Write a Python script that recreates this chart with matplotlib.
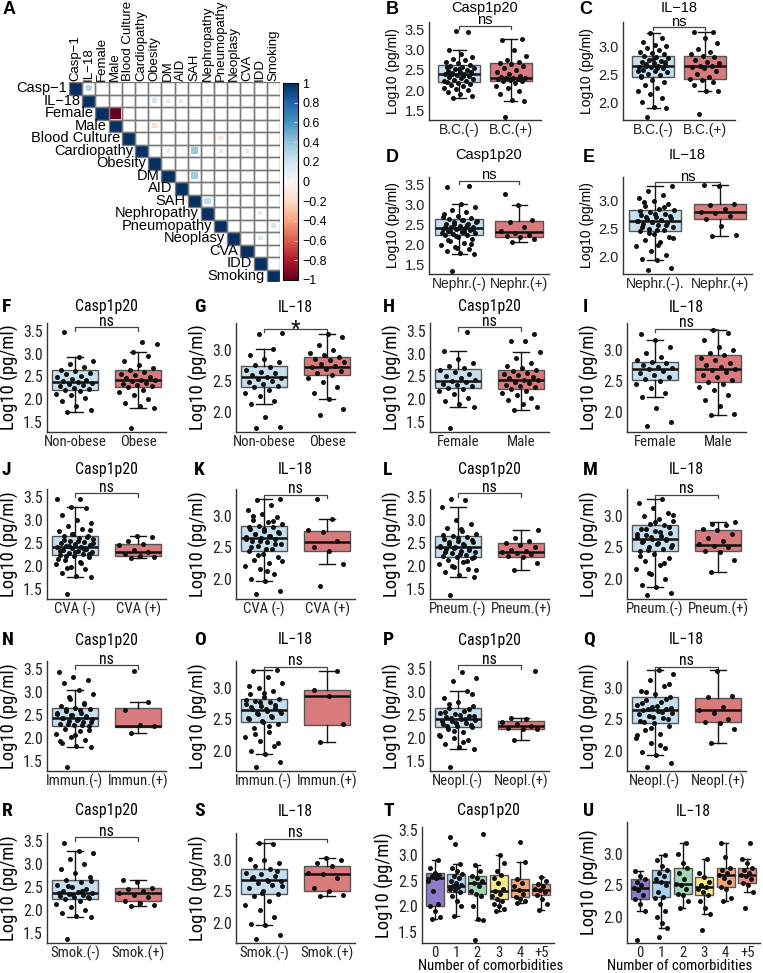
import os
import numpy as np
import matplotlib
matplotlib.use('Agg')
import matplotlib.pyplot as plt
import matplotlib.colors as mcolors
import matplotlib.cm as cm
from matplotlib.patches import Rectangle
from matplotlib import font_manager
from matplotlib.font_manager import FontProperties

plt.rcParams['font.family'] = ['Liberation Sans', 'DejaVu Sans']

# ---------------- data ----------------
var_names = ['Casp−1', 'IL−18', 'Female', 'Male', 'Blood Culture', 'Cardiopathy',
             'Obesity', 'DM', 'AID', 'SAH', 'Nephropathy', 'Pneumopathy',
             'Neoplasy', 'CVA', 'IDD', 'Smoking']
corr_row = [0, 1, 1, 1, 1, 2, 3, 4, 5, 5, 5, 5, 7, 9, 10, 11, 12]
corr_col = [1, 6, 7, 8, 10, 3, 6, 11, 7, 9, 11, 13, 9, 10, 14, 15, 14]
corr_val = [0.28, 0.20, 0.12, 0.12, 0.10, -1.0, -0.20, -0.14, 0.14, 0.38, 0.12,
            0.14, 0.36, 0.25, 0.14, 0.20, 0.15]

casp_ticks = [1.5, 2.0, 2.5, 3.0, 3.5]
il18_ticks = [2.0, 2.5, 3.0]
comorb_labels = ['0', '1', '2', '3', '4', '+5']

# box stats: [lower whisker, q1, median, q3, upper whisker]
# B  blood culture
bc_casp_neg = [1.81, 1.85, 1.9, 1.95, 2.0, 2.03, 2.06, 2.1, 2.13, 2.16, 2.18, 2.2, 2.22, 2.25, 2.27, 2.3,
               2.32, 2.35, 2.37, 2.39, 2.41, 2.42, 2.44, 2.46, 2.48, 2.5, 2.53, 2.55, 2.58, 2.6, 2.63,
               2.66, 2.7, 2.74, 2.78, 2.83, 2.9, 2.99, 3.43, 3.47, 2.24, 2.34, 2.4, 2.45, 2.52, 2.57]
bc_casp_pos = [1.35, 1.74, 1.75, 1.9, 1.98, 2.05, 2.1, 2.18, 2.22, 2.24, 2.25, 2.27, 2.28, 2.3, 2.3, 2.31,
               2.33, 2.36, 2.4, 2.45, 2.5, 2.55, 2.6, 2.64, 2.66, 2.7, 2.75, 2.85, 3.0, 3.24, 3.26]
bc_casp_box = [[1.81, 2.20, 2.41, 2.63, 2.99], [1.74, 2.24, 2.31, 2.66, 3.25]]
# C
bc_il18_neg = [1.73, 1.89, 1.92, 2.0, 2.08, 2.15, 2.2, 2.25, 2.3, 2.35, 2.4, 2.45, 2.48, 2.5, 2.53, 2.56,
               2.58, 2.6, 2.62, 2.63, 2.64, 2.65, 2.67, 2.69, 2.71, 2.73, 2.75, 2.78, 2.8, 2.83, 2.85,
               2.88, 2.9, 2.93, 2.97, 3.0, 3.02, 3.08, 3.15, 3.24, 2.55, 2.61, 2.68, 2.72, 2.77, 2.47]
bc_il18_pos = [1.79, 2.19, 2.2, 2.3, 2.35, 2.4, 2.42, 2.45, 2.5, 2.55, 2.6, 2.62, 2.64, 2.65, 2.7, 2.72,
               2.75, 2.8, 2.82, 2.85, 2.9, 2.95, 3.05, 3.15, 3.25, 3.26]
bc_il18_box = [[1.89, 2.45, 2.64, 2.83, 3.24], [2.19, 2.42, 2.64, 2.82, 3.26]]
# D  nephropathy
ne_casp_neg = [1.35, 1.77, 1.8, 1.85, 1.9, 1.95, 2.0, 2.05, 2.1, 2.15, 2.2, 2.23, 2.25, 2.27, 2.3, 2.32,
               2.34, 2.36, 2.38, 2.4, 2.41, 2.43, 2.45, 2.47, 2.5, 2.52, 2.55, 2.58, 2.6, 2.63, 2.66,
               2.7, 2.75, 2.8, 2.86, 2.93, 3.02, 3.43, 3.45, 2.22, 2.28, 2.31, 2.35, 2.39, 2.42, 2.44,
               2.48, 2.51, 2.56, 2.62, 2.12, 2.02, 1.92, 2.68]
ne_casp_pos = [2.06, 2.15, 2.2, 2.22, 2.25, 2.3, 2.35, 2.45, 2.55, 2.6, 2.99, 3.25]
ne_casp_box = [[1.77, 2.23, 2.41, 2.63, 3.02], [2.06, 2.20, 2.32, 2.59, 2.99]]
# E
ne_il18_neg = [1.76, 1.78, 1.93, 1.95, 2.02, 2.1, 2.18, 2.25, 2.3, 2.35, 2.4, 2.45, 2.48, 2.5, 2.53, 2.56,
               2.58, 2.6, 2.62, 2.64, 2.65, 2.67, 2.69, 2.71, 2.74, 2.77, 2.8, 2.83, 2.86, 2.9, 2.95,
               3.0, 3.05, 3.1, 3.18, 3.27, 2.47, 2.52, 2.57, 2.61, 2.63, 2.66, 2.7, 2.73, 2.76, 2.81,
               2.88, 2.42, 2.33, 2.2, 2.97]
ne_il18_pos = [2.36, 2.38, 2.55, 2.68, 2.72, 2.78, 2.8, 2.85, 2.92, 2.95, 3.27, 3.28]
ne_il18_box = [[1.93, 2.45, 2.64, 2.83, 3.27], [2.36, 2.67, 2.79, 2.95, 3.28]]
# F  obesity
ob_casp_neg = [1.72, 1.75, 1.85, 1.95, 2.02, 2.08, 2.12, 2.17, 2.19, 2.22, 2.25, 2.28, 2.3, 2.33, 2.35,
               2.37, 2.39, 2.42, 2.45, 2.48, 2.5, 2.55, 2.58, 2.62, 2.65, 2.7, 2.78, 2.85, 2.93, 3.47]
ob_casp_pos = [1.35, 1.8, 1.85, 1.92, 2.0, 2.08, 2.15, 2.2, 2.26, 2.28, 2.3, 2.33, 2.36, 2.39, 2.41, 2.43,
               2.46, 2.49, 2.52, 2.55, 2.6, 2.63, 2.68, 2.75, 2.85, 2.95, 3.03, 3.22, 3.27]
ob_casp_box = [[1.72, 2.19, 2.37, 2.63, 2.93], [1.80, 2.26, 2.41, 2.63, 3.03]]
# G
ob_il18_neg = [1.74, 1.76, 1.92, 2.13, 2.18, 2.25, 2.3, 2.35, 2.4, 2.42, 2.45, 2.48, 2.5, 2.53, 2.55,
               2.57, 2.59, 2.62, 2.65, 2.68, 2.72, 2.75, 2.8, 2.85, 2.92, 3.02, 3.26, 3.27]
ob_il18_pos = [1.95, 2.05, 2.21, 2.3, 2.4, 2.48, 2.55, 2.6, 2.63, 2.66, 2.69, 2.72, 2.74, 2.77, 2.8,
               2.83, 2.86, 2.89, 2.92, 2.95, 3.0, 3.08, 3.2, 3.26]
ob_il18_box = [[2.13, 2.41, 2.57, 2.74, 3.02], [2.21, 2.59, 2.72, 2.88, 3.26]]
# H  sex
sx_casp_f = [1.35, 1.83, 1.88, 1.95, 2.02, 2.1, 2.17, 2.22, 2.25, 2.28, 2.31, 2.34, 2.37, 2.4, 2.43,
             2.47, 2.51, 2.55, 2.6, 2.64, 2.68, 2.72, 2.8, 2.88, 3.06, 3.48]
sx_casp_m = [1.76, 1.82, 1.9, 1.97, 2.02, 2.08, 2.13, 2.18, 2.23, 2.26, 2.29, 2.32, 2.35, 2.38, 2.41,
             2.43, 2.46, 2.49, 2.52, 2.55, 2.58, 2.62, 2.64, 2.68, 2.73, 2.8, 2.9, 3.03, 3.28, 3.29, 3.44]
sx_casp_box = [[1.83, 2.24, 2.40, 2.67, 3.06], [1.76, 2.23, 2.43, 2.64, 3.03]]
# I
sx_il18_f = [1.78, 1.84, 2.06, 2.24, 2.3, 2.38, 2.45, 2.5, 2.53, 2.57, 2.6, 2.63, 2.66, 2.69, 2.71,
             2.73, 2.75, 2.78, 2.8, 2.83, 2.88, 2.95, 3.05, 3.15, 3.26]
sx_il18_m = [1.95, 1.97, 2.1, 2.2, 2.28, 2.35, 2.4, 2.45, 2.48, 2.52, 2.56, 2.6, 2.64, 2.67, 2.69,
             2.72, 2.75, 2.79, 2.83, 2.87, 2.91, 2.95, 3.0, 3.05, 3.15, 3.27, 3.32]
sx_il18_box = [[2.24, 2.52, 2.69, 2.81, 3.15], [1.95, 2.48, 2.69, 2.91, 3.32]]
# J  CVA
cva_casp_neg = [1.38, 1.75, 1.78, 1.85, 1.92, 1.98, 2.03, 2.08, 2.13, 2.18, 2.21, 2.23, 2.25, 2.28, 2.3,
                2.32, 2.34, 2.36, 2.38, 2.4, 2.41, 2.43, 2.45, 2.47, 2.5, 2.52, 2.55, 2.58, 2.61, 2.64,
                2.66, 2.7, 2.75, 2.8, 2.86, 2.93, 3.0, 3.1, 3.27, 3.28, 3.45, 3.47, 2.22, 2.26, 2.29,
                2.33, 2.37, 2.44, 2.49, 2.53, 2.57, 2.63, 2.69, 2.15, 2.05, 1.95, 2.78]
cva_casp_pos = [2.17, 2.2, 2.22, 2.25, 2.3, 2.35, 2.45, 2.47, 2.55, 2.62, 2.65]
cva_casp_box = [[1.75, 2.23, 2.41, 2.66, 3.28], [2.17, 2.22, 2.30, 2.48, 2.65]]
# K
cva_il18_neg = [1.76, 1.81, 1.97, 2.0, 2.08, 2.15, 2.2, 2.25, 2.3, 2.35, 2.4, 2.45, 2.48, 2.52, 2.55,
                2.58, 2.61, 2.63, 2.65, 2.67, 2.69, 2.71, 2.73, 2.76, 2.79, 2.82, 2.84, 2.87, 2.9, 2.94,
                2.98, 3.03, 3.1, 3.18, 3.26, 3.27, 2.47, 2.5, 2.56, 2.6, 2.64, 2.68, 2.72, 2.75, 2.8,
                2.83, 2.92, 2.38, 2.28, 2.12, 3.0]
cva_il18_pos = [1.88, 2.23, 2.45, 2.5, 2.6, 2.74, 2.77, 2.95, 3.27]
cva_il18_box = [[1.97, 2.45, 2.65, 2.84, 3.27], [2.23, 2.44, 2.59, 2.76, 2.95]]
# L  pneumopathy
pn_casp_neg = [1.35, 1.75, 1.8, 1.86, 1.92, 1.98, 2.03, 2.08, 2.12, 2.16, 2.18, 2.21, 2.24, 2.27, 2.3,
               2.33, 2.36, 2.38, 2.4, 2.42, 2.45, 2.48, 2.51, 2.54, 2.58, 2.62, 2.65, 2.7, 2.76, 2.83,
               2.92, 3.0, 3.28, 3.43, 3.47, 2.2, 2.25, 2.29, 2.34, 2.39, 2.43, 2.47, 2.52, 2.56, 2.6,
               2.68, 2.1, 2.0, 1.9, 2.8]
pn_casp_pos = [1.91, 2.05, 2.2, 2.22, 2.25, 2.28, 2.3, 2.32, 2.35, 2.4, 2.45, 2.5, 2.55, 2.6, 2.78]
pn_casp_box = [[1.75, 2.18, 2.40, 2.65, 3.28], [1.91, 2.20, 2.30, 2.50, 2.78]]
# M
pn_il18_neg = [1.75, 1.78, 1.87, 1.9, 2.0, 2.08, 2.15, 2.22, 2.28, 2.34, 2.4, 2.44, 2.48, 2.51, 2.54,
               2.57, 2.6, 2.62, 2.64, 2.66, 2.68, 2.7, 2.73, 2.76, 2.8, 2.85, 2.88, 2.92, 2.96, 3.0,
               3.05, 3.12, 3.2, 3.27, 2.46, 2.5, 2.55, 2.59, 2.63, 2.67, 2.71, 2.75, 2.79, 2.83, 2.9,
               2.37, 2.25, 2.1, 3.02]
pn_il18_pos = [2.11, 2.3, 2.42, 2.45, 2.5, 2.52, 2.55, 2.6, 2.65, 2.72, 2.78, 2.8, 2.85, 2.88, 2.9]
pn_il18_box = [[1.87, 2.44, 2.64, 2.85, 3.27], [2.11, 2.44, 2.54, 2.78, 2.90]]
# N  immune disease
im_casp_neg = [1.35, 1.79, 1.82, 1.88, 1.95, 2.02, 2.08, 2.14, 2.2, 2.25, 2.28, 2.31, 2.34, 2.37, 2.4,
               2.42, 2.44, 2.46, 2.49, 2.52, 2.55, 2.58, 2.62, 2.65, 2.7, 2.77, 2.85, 2.95, 3.04, 3.2,
               3.27, 3.33, 3.43, 2.27, 2.3, 2.35, 2.39, 2.43, 2.47, 2.5, 2.54, 2.6, 2.63, 2.17, 2.05,
               1.92, 2.73, 2.9]
im_casp_pos = [2.10, 2.25, 2.27, 2.6, 2.79, 3.47]
im_casp_box = [[1.79, 2.25, 2.44, 2.65, 3.04], [2.10, 2.24, 2.26, 2.65, 2.79]]
# O
im_il18_neg = [1.75, 1.82, 1.95, 2.0, 2.08, 2.15, 2.22, 2.3, 2.36, 2.42, 2.46, 2.5, 2.54, 2.58, 2.61,
               2.64, 2.66, 2.68, 2.71, 2.74, 2.77, 2.8, 2.82, 2.86, 2.9, 2.95, 3.0, 3.08, 3.18, 3.27,
               3.28, 2.48, 2.52, 2.56, 2.6, 2.63, 2.67, 2.7, 2.73, 2.78, 2.81, 2.4, 2.27, 2.12, 2.92, 3.04]
im_il18_pos = [2.14, 2.43, 2.87, 2.97, 3.27]
im_il18_box = [[1.95, 2.46, 2.65, 2.82, 3.28], [2.14, 2.41, 2.87, 2.97, 3.27]]
# P  neoplasy
neo_casp_neg = [1.35, 1.75, 1.8, 1.87, 1.94, 2.0, 2.06, 2.12, 2.18, 2.23, 2.26, 2.3, 2.33, 2.36, 2.39,
                2.42, 2.45, 2.48, 2.51, 2.55, 2.59, 2.64, 2.7, 2.78, 2.88, 3.02, 3.25, 3.3, 3.43, 2.25,
                2.28, 2.32, 2.36, 2.4, 2.44, 2.47, 2.5, 2.57, 2.62, 2.15, 2.03, 1.9, 2.74, 2.95]
neo_casp_pos = [1.96, 2.18, 2.2, 2.22, 2.25, 2.3, 2.35, 2.4, 2.43, 3.47]
neo_casp_box = [[1.75, 2.23, 2.42, 2.64, 3.02], [1.96, 2.18, 2.25, 2.36, 2.43]]
# Q
neo_il18_neg = [1.75, 1.8, 1.93, 1.98, 2.05, 2.12, 2.2, 2.27, 2.33, 2.39, 2.44, 2.48, 2.52, 2.56, 2.6,
                2.63, 2.65, 2.67, 2.7, 2.73, 2.77, 2.81, 2.85, 2.9, 2.96, 3.03, 3.12, 3.22, 3.28, 2.46,
                2.5, 2.54, 2.58, 2.62, 2.66, 2.69, 2.72, 2.76, 2.83, 2.36, 2.25, 2.1, 2.93, 3.07]
neo_il18_pos = [2.13, 2.35, 2.45, 2.46, 2.5, 2.6, 2.65, 2.7, 2.85, 2.88, 3.27]
neo_il18_box = [[1.93, 2.44, 2.65, 2.85, 3.28], [2.13, 2.46, 2.65, 2.84, 3.28]]
# R  smoking
sm_casp_neg = [1.35, 1.83, 1.87, 1.93, 2.0, 2.06, 2.12, 2.18, 2.23, 2.25, 2.28, 2.3, 2.33, 2.35, 2.37,
               2.39, 2.42, 2.46, 2.5, 2.55, 2.6, 2.66, 2.72, 2.8, 2.9, 3.0, 3.1, 3.25, 3.28, 3.45,
               2.27, 2.32, 2.36, 2.41, 2.52, 2.62]
sm_casp_pos = [2.07, 2.1, 2.15, 2.2, 2.28, 2.33, 2.36, 2.4, 2.45, 2.48, 2.6, 2.66]
sm_casp_box = [[1.83, 2.23, 2.37, 2.66, 3.28], [2.07, 2.19, 2.36, 2.48, 2.66]]
# S
sm_il18_neg = [1.75, 1.8, 1.96, 1.98, 2.1, 2.2, 2.28, 2.35, 2.42, 2.46, 2.5, 2.55, 2.6, 2.64, 2.67,
               2.69, 2.71, 2.74, 2.77, 2.8, 2.85, 2.9, 2.95, 3.0, 3.02, 3.25, 3.27, 2.58, 2.66, 2.73,
               2.82, 2.48]
sm_il18_pos = [2.42, 2.45, 2.5, 2.55, 2.72, 2.77, 2.8, 2.9, 2.95, 3.0, 3.03]
sm_il18_box = [[1.96, 2.46, 2.69, 2.85, 3.27], [2.42, 2.50, 2.77, 2.90, 3.03]]
# T  number of comorbidities, Casp1p20
nc_casp = [
    [1.76, 1.8, 1.9, 2.0, 2.05, 2.3, 2.5, 2.55, 2.6, 2.62, 2.65, 2.75, 2.91],
    [1.81, 2.0, 2.1, 2.2, 2.29, 2.32, 2.35, 2.38, 2.4, 2.42, 2.45, 2.5, 2.55, 2.6, 2.63, 2.7, 2.75,
     2.84, 3.22, 3.37],
    [1.33, 1.73, 1.75, 2.0, 2.2, 2.24, 2.3, 2.4, 2.46, 2.5, 2.55, 2.6, 2.7, 2.81, 3.43],
    [1.91, 1.95, 2.0, 2.05, 2.1, 2.14, 2.2, 2.25, 2.31, 2.35, 2.45, 2.55, 2.61, 2.7, 2.85, 3.01],
    [2.06, 2.1, 2.15, 2.19, 2.25, 2.32, 2.4, 2.45, 2.53, 2.88, 3.26],
    [1.93, 2.05, 2.15, 2.22, 2.28, 2.32, 2.35, 2.4, 2.43, 2.5, 2.57],
]
nc_casp_box = [[1.76, 2.00, 2.55, 2.65, 2.91], [1.81, 2.29, 2.40, 2.63, 2.84],
               [1.73, 2.24, 2.46, 2.60, 2.81], [1.91, 2.14, 2.31, 2.61, 3.01],
               [2.06, 2.19, 2.32, 2.53, 2.88], [1.93, 2.22, 2.32, 2.43, 2.57]]
# U
nc_il18 = [
    [1.63, 2.1, 2.2, 2.28, 2.35, 2.42, 2.46, 2.5, 2.55, 2.6, 2.65, 2.73],
    [1.68, 1.83, 1.9, 2.0, 2.1, 2.2, 2.3, 2.32, 2.4, 2.5, 2.55, 2.6, 2.65, 2.7, 2.75, 2.8, 2.9, 2.98],
    [2.15, 2.25, 2.35, 2.37, 2.45, 2.5, 2.52, 2.6, 2.7, 2.78, 2.85, 3.0, 3.17],
    [1.8, 2.04, 2.15, 2.25, 2.35, 2.4, 2.45, 2.47, 2.5, 2.55, 2.63, 2.7, 2.92],
    [2.25, 2.3, 2.45, 2.48, 2.55, 2.62, 2.67, 2.7, 2.75, 2.77, 2.95, 3.17],
    [2.14, 2.39, 2.5, 2.54, 2.6, 2.65, 2.67, 2.7, 2.75, 2.78, 2.85, 2.91, 3.17],
]
nc_il18_box = [[2.10, 2.28, 2.46, 2.60, 2.73], [1.83, 2.32, 2.55, 2.75, 2.98],
               [2.15, 2.37, 2.52, 2.78, 3.17], [2.04, 2.35, 2.47, 2.63, 2.92],
               [2.25, 2.48, 2.67, 2.77, 3.17], [2.39, 2.54, 2.67, 2.78, 2.91]]


# ---------------- fonts ----------------
def find_font(keys, avoid):
    for key in keys:
        for f in font_manager.fontManager.ttflist:
            base = os.path.basename(f.fname)
            if key in base and not any(a in base for a in avoid):
                return f.fname
    return None


# narrow fonts, with their width relative to Arial
narrow_opts = [('LiberationSansNarrow-Regular', 'LiberationSansNarrow-Bold.', 0.82),
               ('RobotoCondensed-Regular', 'RobotoCondensed-Bold', 0.86),
               ('OpenSans_Condensed-Regular', 'OpenSans_Condensed-Bold', 0.84),
               ('DejaVuSansCondensed.ttf', 'DejaVuSansCondensed-Bold.ttf', 0.97)]
nar_reg, nar_bold, nar_w = None, None, 1.0
for rk, bk, wf in narrow_opts:
    p = find_font([rk], ('Italic', 'Oblique'))
    if p:
        nar_reg, nar_bold, nar_w = p, find_font([bk], ('Italic', 'Oblique')), wf
        break


def fprop(size, bold=False, low=False):
    if low and nar_reg:
        path = nar_bold if (bold and nar_bold) else nar_reg
        return FontProperties(fname=path, size=size)
    return FontProperties(family=['Liberation Sans', 'DejaVu Sans'], size=size,
                          weight='bold' if bold else 'normal')


TOP = dict(tick=fprop(10.5), xtick=fprop(10), title=fprop(10.5), ylab=fprop(10),
           ns=fprop(10.5), letter=fprop(13, True), xlab=fprop(10))
if nar_reg:
    k = min(11.5, 9.8 / nar_w)
    LOW = dict(tick=fprop(k, low=True), xtick=fprop(k - 0.8, low=True), title=fprop(k, low=True),
               ylab=fprop(k + 2, low=True), ns=fprop(k, low=True), letter=fprop(14, True, True),
               xlab=fprop(k - 0.8, low=True))
else:
    LOW = dict(tick=fprop(10.5), xtick=fprop(9.6), title=fprop(10.5), ylab=fprop(11),
               ns=fprop(10.5), letter=fprop(13, True), xlab=fprop(9.6))

# ---------------- figure ----------------
W, H = 763, 973
fig = plt.figure(figsize=(W / 100, H / 100), dpi=100)

BLUE = '#c6dff0'
RED = '#d97b7d'
nc_colors = ['#8c7bc6', '#a8d2f2', '#9fd6b4', '#f7e889', '#f3a57a', '#ef8b82']


def rect(l, t, r, b):
    return [l / W, 1 - b / H, (r - l) / W, (b - t) / H]


def label(x, y, s, st):
    fig.text(x / W, 1 - y / H, s, fontproperties=st['letter'], ha='left', va='center')


# ---- A: correlation matrix
cmap = plt.get_cmap('RdBu')
norm = mcolors.Normalize(-1, 1)
axA = fig.add_axes(rect(69, 82, 280, 282))
n = len(var_names)
for i in range(n):
    axA.add_patch(Rectangle((i, i), 1, 1, fc=cmap(norm(1.0)), ec='none'))
for r, c, v in zip(corr_row, corr_col, corr_val):
    s = np.sqrt(abs(v)) * 0.92
    axA.add_patch(Rectangle((c + 0.5 - s / 2, r + 0.5 - s / 2), s, s, fc=cmap(norm(v)), ec='none'))
for i in range(n):
    for j in range(i, n):
        axA.add_patch(Rectangle((j, i), 1, 1, fc='none', ec='#7a7a7a', lw=1.0))
for i, name in enumerate(var_names):
    axA.text(i - 0.15, i + 0.5, name, ha='right', va='center', fontsize=10.5)
    axA.text(i + 0.5, -0.08, name, ha='center', va='bottom', rotation=90, fontsize=9.5)
axA.set_xlim(0, n)
axA.set_ylim(n, 0)
axA.axis('off')

cax = fig.add_axes(rect(283, 83, 298, 280))
cb = fig.colorbar(cm.ScalarMappable(norm=norm, cmap=cmap), cax=cax,
                  ticks=np.linspace(-1, 1, 11))
cb.ax.set_yticklabels([('%g' % round(t, 1)).replace('-', '−') for t in np.linspace(-1, 1, 11)])
cb.ax.tick_params(labelsize=9, length=3, width=0.6, color='#dddddd', direction='in', pad=3)
cb.outline.set_edgecolor('black')
cb.outline.set_linewidth(0.8)
label(3, 10, 'A', TOP)


def box_panel(box, groups, stats, colors, ticklabels, ylim, yticks, title, title_y, st,
              sig=None, bracket=None, jw=0.3, width=0.8, xlabel=None, xlim=(0.5, 2.5),
              xlabel_x=None):
    ax = fig.add_axes(rect(*box))
    pos = np.arange(1, len(groups) + 1)
    bst = [dict(whislo=s[0], q1=s[1], med=s[2], q3=s[3], whishi=s[4], fliers=[]) for s in stats]
    bp = ax.bxp(bst, positions=pos, widths=width, patch_artist=True, showfliers=False,
                boxprops=dict(edgecolor='#555555', linewidth=1.0),
                medianprops=dict(color='#111111', linewidth=1.8),
                whiskerprops=dict(color='#111111', linewidth=1.0),
                capprops=dict(color='#111111', linewidth=1.0), capwidths=0.25)
    for patch, c in zip(bp['boxes'], colors):
        patch.set_facecolor(c)
    for p, vals in zip(pos, groups):
        vals = np.asarray(vals)
        k = np.arange(len(vals))
        off = ((k * 0.618034 + 0.3) % 1 - 0.5) * 2 * jw
        ax.scatter(p + off, vals, s=13, color='#111111', linewidths=0, zorder=4)
    if sig is not None:
        yb, d = bracket
        ax.plot([1, 1, 2, 2], [yb - d, yb, yb, yb - d], color='#444444', lw=0.9, clip_on=False)
        if sig == '*':
            ax.annotate(sig, (1.5, yb), xytext=(0, -7), textcoords='offset points', ha='center',
                        va='baseline', fontsize=18, annotation_clip=False)
        else:
            ax.annotate(sig, (1.5, yb), xytext=(0, 1), textcoords='offset points', ha='center',
                        va='baseline', fontproperties=st['ns'], annotation_clip=False)
    ax.set_xlim(*xlim)
    ax.set_ylim(*ylim)
    ax.set_yticks(yticks)
    ax.set_yticklabels(['%.1f' % t for t in yticks], fontproperties=st['tick'])
    ax.set_xticks(pos)
    ax.set_xticklabels(ticklabels, fontproperties=st['xtick'])
    for sp in ['top', 'right']:
        ax.spines[sp].set_visible(False)
    for sp in ['left', 'bottom']:
        ax.spines[sp].set_color('#333333')
        ax.spines[sp].set_linewidth(1.0)
    ax.tick_params(length=0, pad=3, colors='#222222')
    ax.tick_params(axis='x', pad=2)
    ax.set_ylabel('Log10 (pg/ml)', fontproperties=st['ylab'], labelpad=3)
    if xlabel:
        ax.set_xlabel(xlabel, fontproperties=st['xlab'], labelpad=0)
        if xlabel_x is not None:
            hgt = box[3] - box[1]
            ax.xaxis.set_label_coords((xlabel_x - box[0]) / (box[2] - box[0]), -16.0 / hgt)
            ax.xaxis.label.set_va('top')
    cx = (box[0] + box[2]) / 2
    fig.text(cx / W, 1 - title_y / H, title, ha='center', va='center',
             fontproperties=st['title'])
    return ax


CASP_LIM = (1.27, 3.68)
IL_LIM = (1.68, 3.43)
CASP_BR = (3.59, 0.08)
IL_BR = (3.34, 0.06)
two = [BLUE, RED]
casp_t = 'Casp1p20'
il_t = 'IL−18'

# top right panels
box_panel((429, 22, 541, 120), [bc_casp_neg, bc_casp_pos], bc_casp_box, two, ['B.C.(-)', 'B.C.(+)'],
          CASP_LIM, casp_ticks, casp_t, 8, TOP, 'ns', CASP_BR, xlim=(0.42, 2.58))
box_panel((623, 22, 735, 120), [bc_il18_neg, bc_il18_pos], bc_il18_box, two, ['B.C.(-)', 'B.C.(+)'],
          IL_LIM, il18_ticks, il_t, 8, TOP, 'ns', IL_BR, xlim=(0.42, 2.58))
box_panel((429, 177, 549, 274), [ne_casp_neg, ne_casp_pos], ne_casp_box, two, ['Nephr.(-)', 'Nephr.(+)'],
          CASP_LIM, casp_ticks, casp_t, 155, TOP, 'ns', CASP_BR)
box_panel((623, 177, 752, 274), [ne_il18_neg, ne_il18_pos], ne_il18_box, two, ['Nephr.(-).', 'Nephr.(+)'],
          IL_LIM, il18_ticks, il_t, 155, TOP, 'ns', IL_BR)
label(386, 10, 'B', TOP)
label(579, 10, 'C', TOP)
label(386, 157, 'D', TOP)
label(583, 157, 'E', TOP)

cols = [(47, 166), (236, 355), (430, 549), (627, 746)]
rows = [(323, 432, 307), (489, 599, 470), (661, 771, 640), (833, 943, 811)]
letter_x = [2, 194, 383, 583]

grid = [
    [([ob_casp_neg, ob_casp_pos], ob_casp_box, ['Non-obese', 'Obese'], 'casp', 'ns'),
     ([ob_il18_neg, ob_il18_pos], ob_il18_box, ['Non-obese', 'Obese'], 'il', '*'),
     ([sx_casp_f, sx_casp_m], sx_casp_box, ['Female', 'Male'], 'casp', 'ns'),
     ([sx_il18_f, sx_il18_m], sx_il18_box, ['Female', 'Male'], 'il', 'ns')],
    [([cva_casp_neg, cva_casp_pos], cva_casp_box, ['CVA (-)', 'CVA (+)'], 'casp', 'ns'),
     ([cva_il18_neg, cva_il18_pos], cva_il18_box, ['CVA (-)', 'CVA (+)'], 'il', 'ns'),
     ([pn_casp_neg, pn_casp_pos], pn_casp_box, ['Pneum.(-)', 'Pneum.(+)'], 'casp', 'ns'),
     ([pn_il18_neg, pn_il18_pos], pn_il18_box, ['Pneum.(-)', 'Pneum.(+)'], 'il', 'ns')],
    [([im_casp_neg, im_casp_pos], im_casp_box, ['Immun.(-)', 'Immun.(+)'], 'casp', 'ns'),
     ([im_il18_neg, im_il18_pos], im_il18_box, ['Immun.(-)', 'Immun.(+)'], 'il', 'ns'),
     ([neo_casp_neg, neo_casp_pos], neo_casp_box, ['Neopl.(-)', 'Neopl.(+)'], 'casp', 'ns'),
     ([neo_il18_neg, neo_il18_pos], neo_il18_box, ['Neopl.(-)', 'Neopl.(+)'], 'il', 'ns')],
    [([sm_casp_neg, sm_casp_pos], sm_casp_box, ['Smok.(-)', 'Smok.(+)'], 'casp', 'ns'),
     ([sm_il18_neg, sm_il18_pos], sm_il18_box, ['Smok.(-)', 'Smok.(+)'], 'il', 'ns')],
]
letters = ['FGHI', 'JKLM', 'NOPQ', 'RSTU']
low_xlim = (0.56, 2.44)

for r, row in enumerate(grid):
    top, bot, ty = rows[r]
    for c, (groups, stats, tl, kind, sig) in enumerate(row):
        l, rr = cols[c]
        if kind == 'casp':
            box_panel((l, top, rr, bot), groups, stats, two, tl, CASP_LIM, casp_ticks, casp_t, ty,
                      LOW, sig, CASP_BR, width=0.72, xlim=low_xlim)
        else:
            box_panel((l, top, rr, bot), groups, stats, two, tl, IL_LIM, il18_ticks, il_t, ty,
                      LOW, sig, IL_BR, width=0.72, xlim=low_xlim)
    for c in range(4):
        label(letter_x[c], ty, letters[r][c], LOW)

# T, U
box_panel((422, 827, 554, 943), nc_casp, nc_casp_box, nc_colors, comorb_labels,
          (1.28, 3.56), casp_ticks, casp_t, 811, LOW, jw=0.3, width=0.85,
          xlabel='Number of comorbidities', xlim=(0.4, 6.6), xlabel_x=491)
box_panel((627, 822, 760, 943), nc_il18, nc_il18_box, nc_colors, comorb_labels,
          (1.59, 3.50), il18_ticks, il_t, 811, LOW, jw=0.3, width=0.85,
          xlabel='Number of comorbidities', xlim=(0.4, 6.6), xlabel_x=680)

fig.savefig('out.png', dpi=100)
